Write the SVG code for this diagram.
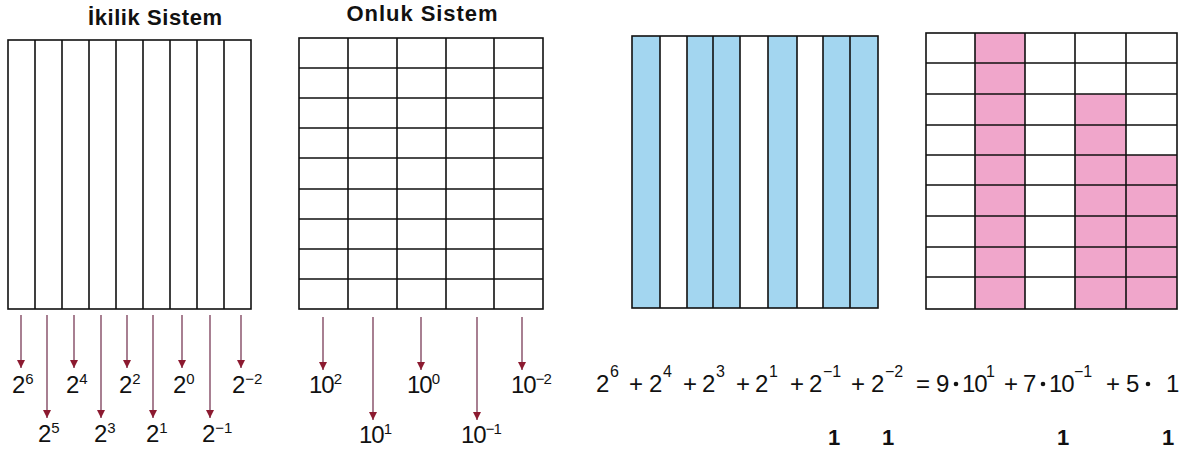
<svg xmlns="http://www.w3.org/2000/svg" width="1183" height="450" viewBox="0 0 1183 450">
<defs>
<marker id="ah" viewBox="0 0 8 8" refX="8" refY="4" markerWidth="8" markerHeight="8" markerUnits="userSpaceOnUse" orient="auto">
<path d="M0,0 L8,4 L0,8 Z" fill="#8c1a30"/>
</marker>
</defs>
<style>
text{font-family:"Liberation Sans",Arial,sans-serif;fill:#111}
.title{font-weight:bold;font-size:22px}
.lbl{font-size:24px}
.sup{font-size:15px}
.eq{font-size:24px}
.es{font-size:16px}
.num{font-size:22px;font-weight:bold}
.grid{fill:none;stroke:#111;stroke-width:1.6}
.arr{stroke:#6e2a48;stroke-width:1.2;fill:none;marker-end:url(#ah)}
.blue{fill:#a3d6f0}
.pink{fill:#f0a6cb}
</style>
<rect width="1183" height="450" fill="#fff"/>

<g id="title-ikilik"><text class="title" x="155" y="25" text-anchor="middle" textLength="134">İkilik Sistem</text></g>
<g id="title-onluk"><text class="title" x="422" y="21" text-anchor="middle" textLength="151">Onluk Sistem</text></g>

<g id="grid-ikilik">
<rect class="grid" x="8" y="40" width="243" height="269"/>
<path class="grid" d="M35,40V309M62,40V309M89,40V309M116,40V309M143,40V309M170,40V309M197,40V309M224,40V309"/>
</g>

<g id="grid-onluk">
<rect class="grid" x="299" y="38" width="244" height="271"/>
<path class="grid" d="M348,38V309M397,38V309M446,38V309M494,38V309M299,68H543M299,98H543M299,128H543M299,158H543M299,189H543M299,219H543M299,249H543M299,279H543"/>
</g>

<g id="grid-blue">
<rect class="blue" x="632" y="36" width="28" height="272"/>
<rect class="blue" x="687" y="36" width="26" height="272"/>
<rect class="blue" x="713" y="36" width="27" height="272"/>
<rect class="blue" x="768" y="36" width="29" height="272"/>
<rect class="blue" x="823" y="36" width="27" height="272"/>
<rect class="blue" x="850" y="36" width="28" height="272"/>
<rect class="grid" x="632" y="36" width="246" height="272"/>
<path class="grid" d="M660,36V308M687,36V308M713,36V308M740,36V308M768,36V308M797,36V308M823,36V308M850,36V308"/>
</g>

<g id="grid-pink">
<rect class="pink" x="975" y="33" width="50" height="276"/>
<rect class="pink" x="1075" y="94" width="51" height="215"/>
<rect class="pink" x="1126" y="155" width="51" height="154"/>
<rect class="grid" x="926" y="33" width="251" height="276"/>
<path class="grid" d="M975,33V309M1025,33V309M1075,33V309M1126,33V309M926,63H1177M926,94H1177M926,125H1177M926,155H1177M926,185H1177M926,216H1177M926,247H1177M926,277H1177"/>
</g>

<g id="connectors">
<line class="arr" x1="21" y1="315" x2="21" y2="368"/>
<line class="arr" x1="47" y1="315" x2="47" y2="418"/>
<line class="arr" x1="74" y1="315" x2="74" y2="368"/>
<line class="arr" x1="101" y1="315" x2="101" y2="418"/>
<line class="arr" x1="127" y1="315" x2="127" y2="368"/>
<line class="arr" x1="153" y1="315" x2="153" y2="418"/>
<line class="arr" x1="182" y1="315" x2="182" y2="368"/>
<line class="arr" x1="210" y1="315" x2="210" y2="418"/>
<line class="arr" x1="241" y1="315" x2="241" y2="368"/>
<line class="arr" x1="323" y1="317" x2="323" y2="370"/>
<line class="arr" x1="373" y1="317" x2="373" y2="420"/>
<line class="arr" x1="421" y1="317" x2="421" y2="370"/>
<line class="arr" x1="477" y1="317" x2="477" y2="420"/>
<line class="arr" x1="522" y1="317" x2="522" y2="370"/>
</g>

<g id="labels-ikilik">
<text class="lbl" x="12" y="393">2<tspan class="sup" dy="-9">6</tspan></text>
<text class="lbl" x="66" y="393">2<tspan class="sup" dy="-9">4</tspan></text>
<text class="lbl" x="119" y="393">2<tspan class="sup" dy="-9">2</tspan></text>
<text class="lbl" x="173" y="393">2<tspan class="sup" dy="-9">0</tspan></text>
<text class="lbl" x="232" y="393">2<tspan class="sup" dy="-9">−2</tspan></text>
<text class="lbl" x="38" y="442">2<tspan class="sup" dy="-9">5</tspan></text>
<text class="lbl" x="94" y="442">2<tspan class="sup" dy="-9">3</tspan></text>
<text class="lbl" x="146" y="442">2<tspan class="sup" dy="-9">1</tspan></text>
<text class="lbl" x="202" y="442">2<tspan class="sup" dy="-9">−1</tspan></text>
</g>

<g id="labels-onluk">
<text class="lbl" x="309" y="393" letter-spacing="-1">10<tspan class="sup" dy="-9">2</tspan></text>
<text class="lbl" x="407" y="393" letter-spacing="-1">10<tspan class="sup" dy="-9">0</tspan></text>
<text class="lbl" x="511" y="393" letter-spacing="-1">10<tspan class="sup" dy="-9">−2</tspan></text>
<text class="lbl" x="359" y="443" letter-spacing="-1">10<tspan class="sup" dy="-9">1</tspan></text>
<text class="lbl" x="461" y="443" letter-spacing="-1">10<tspan class="sup" dy="-9">−1</tspan></text>
</g>

<g id="equation">
<text class="eq" y="392"><tspan x="596">2</tspan><tspan x="629">+</tspan><tspan x="649">2</tspan><tspan x="683">+</tspan><tspan x="702">2</tspan><tspan x="736">+</tspan><tspan x="755">2</tspan><tspan x="790">+</tspan><tspan x="809">2</tspan><tspan x="851">+</tspan><tspan x="871">2</tspan><tspan x="916">=</tspan><tspan x="936">9</tspan><tspan x="962" letter-spacing="-1">10</tspan><tspan x="1004">+</tspan><tspan x="1023">7</tspan><tspan x="1049" letter-spacing="-1">10</tspan><tspan x="1106">+</tspan><tspan x="1126">5</tspan><tspan x="1166">1</tspan></text>
<text class="es" y="377"><tspan x="610">6</tspan><tspan x="663">4</tspan><tspan x="716">3</tspan><tspan x="769">1</tspan><tspan x="823">−1</tspan><tspan x="885">−2</tspan><tspan x="986">1</tspan><tspan x="1074">−1</tspan></text>
<circle cx="956" cy="384" r="2.3" fill="#111"/>
<circle cx="1043" cy="384" r="2.3" fill="#111"/>
<circle cx="1148" cy="384" r="2.3" fill="#111"/>
</g>

<g id="numerators">
<text class="num" y="445"><tspan x="828">1</tspan><tspan x="882">1</tspan><tspan x="1057">1</tspan><tspan x="1162">1</tspan></text>
</g>
</svg>
